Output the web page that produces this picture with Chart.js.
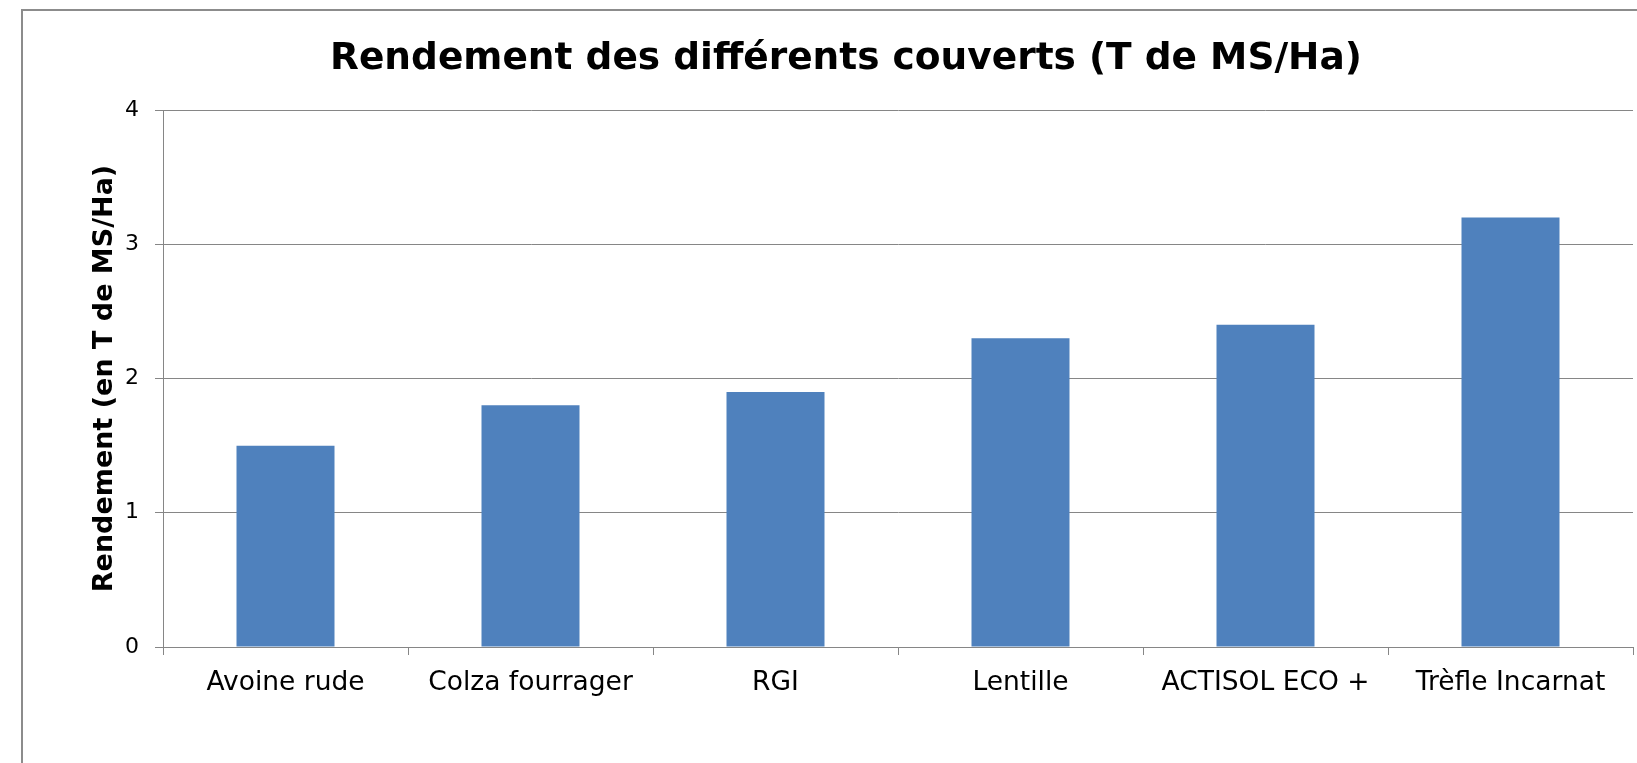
<!DOCTYPE html>
<html>
<head>
<meta charset="utf-8">
<script src="https://cdn.jsdelivr.net/npm/chart.js@4"></script>
<style>
  html, body { margin: 0; padding: 0; background: #fff; overflow: hidden; }
  #frame {
    position: absolute; left: 21px; top: 9px;
    border-left: 2px solid #8c8c8c; border-top: 2px solid #8c8c8c;
  }
  canvas { display: block; }
</style>
</head>
<body>
<div id="frame"><canvas id="chart" width="1646" height="752"></canvas></div>
<script>
// data
const categories = ['Avoine rude', 'Colza fourrager', 'RGI', 'Lentille', 'ACTISOL ECO +', 'Trèfle Incarnat'];
const rendement = [1.5, 1.8, 1.9, 2.3, 2.4, 3.2];
const yTicks = [0, 1, 2, 3, 4];

const gridGrey = '#868686';
const font = 'DejaVu Sans';

const config = {
    type: 'bar',
    data: {
        labels: categories,
        datasets: [{
            label: 'Rendement',
            data: rendement,
            backgroundColor: '#4f81bd',
            borderWidth: 0,
            barPercentage: 0.4,
            categoryPercentage: 1
        }]
    },
    options: {
        responsive: false,
        animation: false,
        devicePixelRatio: 1,
        // equal side padding keeps the title centred where the original has it
        layout: { padding: { left: 36, right: 36, top: 0, bottom: 0 } },
        plugins: {
            legend: { display: false },
            tooltip: { enabled: false },
            title: {
                display: true,
                text: 'Rendement des différents couverts (T de MS/Ha)',
                color: '#000',
                font: { family: font, size: 37.5, weight: 'bold' },
                padding: { top: 26, bottom: 28 }
            }
        },
        scales: {
            x: {
                offset: true,
                grid: { display: true, drawOnChartArea: false, drawTicks: true, tickLength: 8, color: gridGrey, offset: true },
                border: { display: true, color: gridGrey },
                ticks: { color: '#000', font: { family: font, size: 26.5 }, padding: 12, maxRotation: 0, autoSkip: false },
                afterFit: function (scale) { scale.height = 116; }
            },
            y: {
                min: yTicks[0],
                max: yTicks[yTicks.length - 1],
                afterBuildTicks: function (scale) { scale.ticks = yTicks.map(v => ({ value: v })); },
                grid: { color: gridGrey, tickLength: 8 },
                border: { display: true, color: gridGrey },
                ticks: { color: '#000', font: { family: font, size: 22 }, padding: 16 },
                title: {
                    display: true,
                    text: 'Rendement (en T de MS/Ha)',
                    color: '#000',
                    font: { family: font, size: 27, weight: 'bold' },
                    padding: { top: 30, bottom: 0 }
                },
                afterFit: function (scale) { scale.width = 104; }
            }
        }
    }
};

const myChart = new Chart(document.getElementById('chart'), config);
</script>
</body>
</html>
